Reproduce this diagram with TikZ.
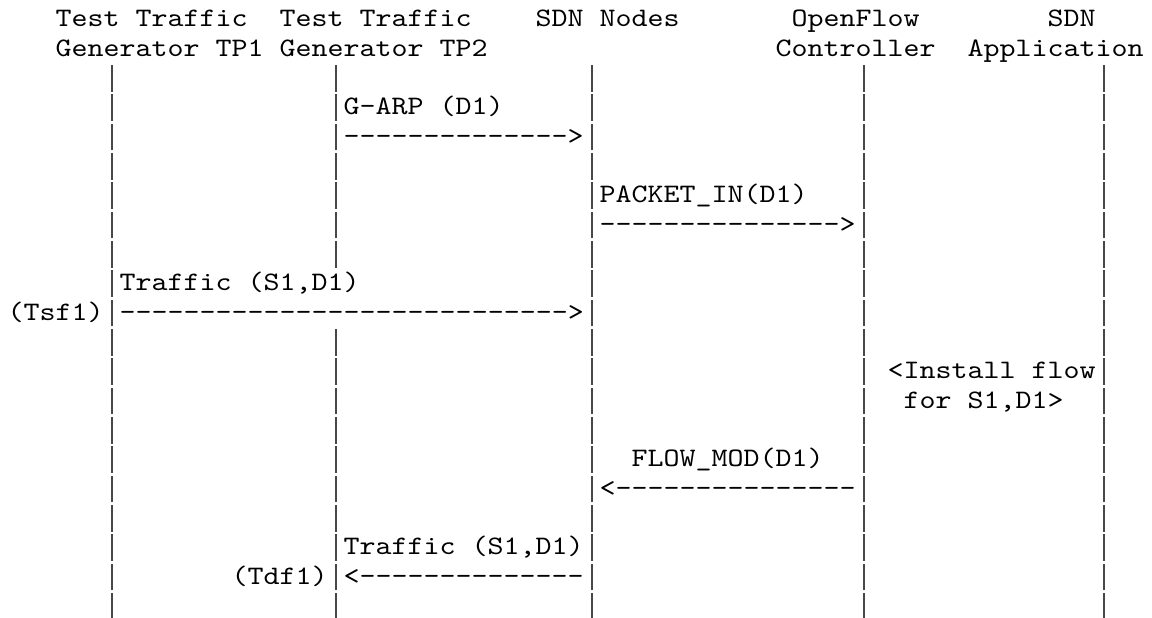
\documentclass[tikz,border=0pt]{standalone}
\usepackage{fontspec}
\setmonofont{lmmono10-regular.otf}[FakeStretch=1.143]
\ExplSyntaxOn
\cs_new:Npn \myrep #1#2 { \prg_replicate:nn {#1} {#2{}} }
\ExplSyntaxOff
\tikzset{
  tx/.style={anchor=base west, inner sep=0pt, outer sep=0pt,
    font=\ttfamily\fontsize{26.667pt}{29.333pt}\selectfont, text=black},
  barn/.style={anchor=base, inner sep=0pt, outer sep=0pt, text=black!72},
}
\newcommand\txt[4]{\node[tx] (#3) at ({7.7+16*#2},{-27-29.333*(#1-1)}) {#4};}
\newcommand\lifebar[3]{\node[barn] (#3) at ({15.7+16*#2},{-27-29.333*(#1-1)}) {\rule[-6pt]{2.2pt}{26.7pt}};}
\begin{document}
\begin{tikzpicture}[x=1pt,y=1pt]
\useasboundingbox (0,0) rectangle (1152,-618);
% headers
\txt{1}{3}{h1a}{Test Traffic}
\txt{1}{17}{h2a}{Test Traffic}
\txt{1}{33}{h3a}{SDN Nodes}
\txt{1}{49}{h4a}{OpenFlow}
\txt{1}{65}{h5a}{SDN}
\txt{2}{3}{h1b}{Generator TP1}
\txt{2}{17}{h2b}{Generator TP2}
\txt{2}{48}{h4b}{Controller}
\txt{2}{60}{h5b}{Application}
% lifelines (bar glyphs)
\foreach \r in {3,...,9,12,13,...,21}{
  \foreach \c in {6,20,36,53,68}{
    \lifebar{\r}{\c}{bar-\c-\r}
  }
}
\foreach \r in {10,11}{
  \foreach \c in {6,36,53,68}{
    \lifebar{\r}{\c}{bar-\c-\r}
  }
}
% messages
\txt{4}{21}{garp}{G-ARP (D1)}
\txt{5}{21}{garpArrow}{\myrep{14}{-}>}
\txt{7}{37}{pin}{PACKET\_IN(D1)}
\txt{8}{37}{pinArrow}{\myrep{15}{-}>}
\txt{10}{7}{tr1}{Traffic (S1,D1)}
\txt{11}{0}{tsf}{(Tsf1)}
\txt{11}{7}{tr1Arrow}{\myrep{28}{-}>}
\txt{13}{55}{inst1}{<Install flow}
\txt{14}{56}{inst2}{for S1,D1>}
\txt{16}{39}{fmod}{FLOW\_MOD(D1)}
\txt{17}{37}{fmodArrow}{<\myrep{15}{-}}
\txt{19}{21}{tr2}{Traffic (S1,D1)}
\txt{20}{14}{tdf}{(Tdf1)}
\txt{20}{21}{tr2Arrow}{<\myrep{14}{-}}
\end{tikzpicture}
\end{document}
